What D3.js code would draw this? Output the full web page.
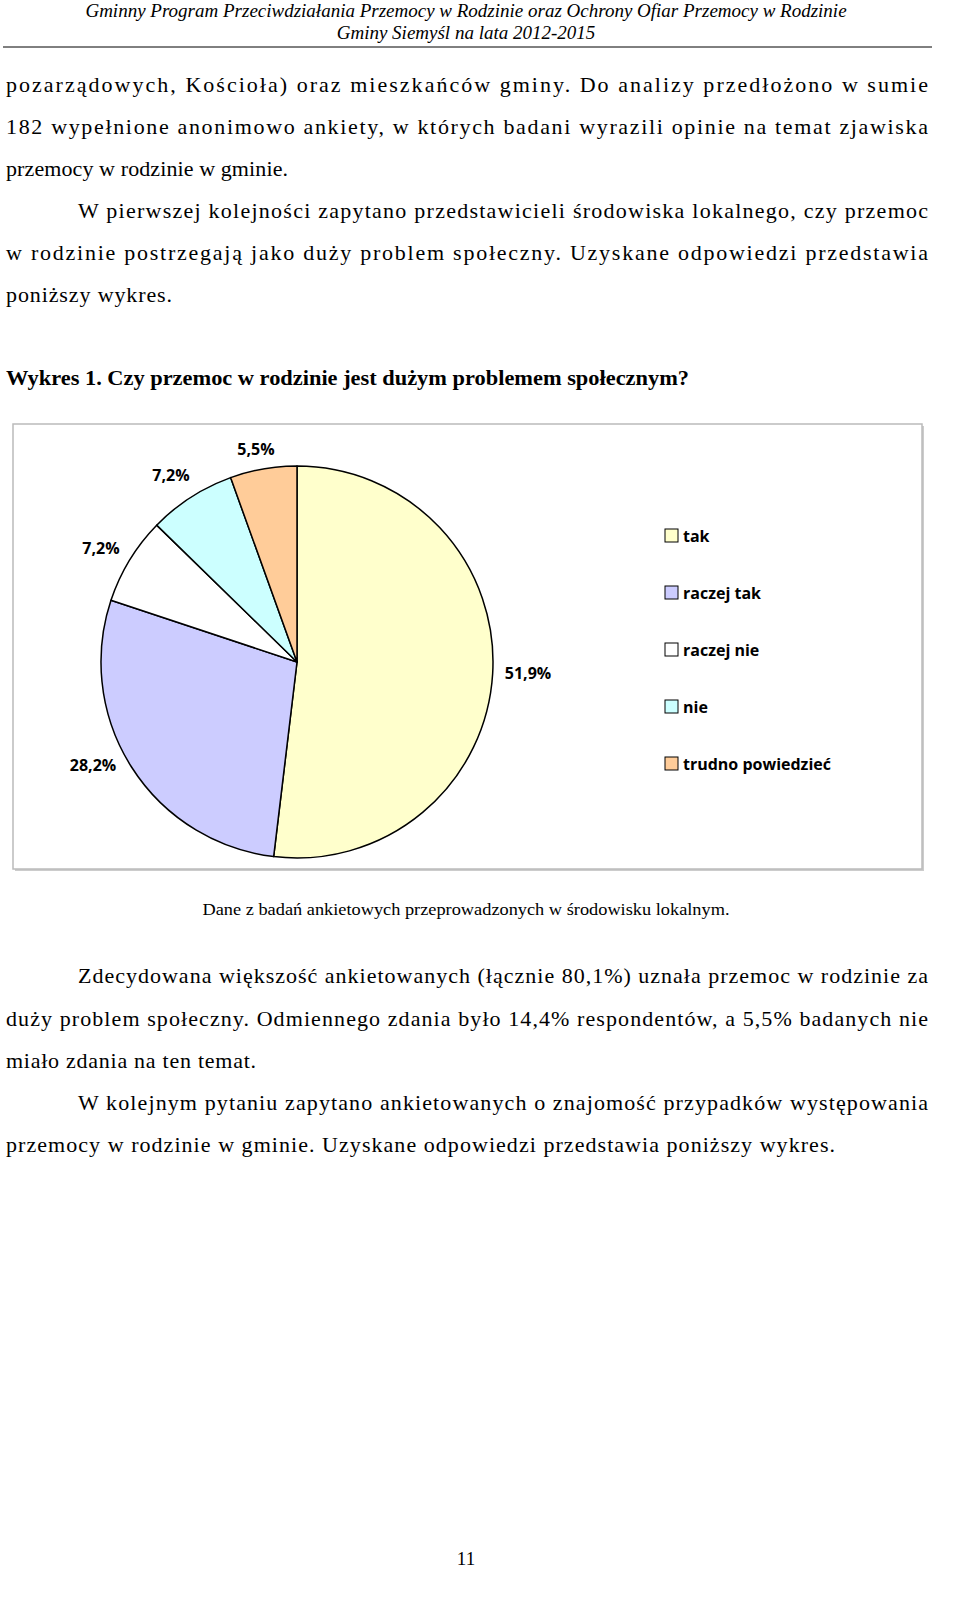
<!DOCTYPE html>
<html><head><meta charset="utf-8">
<script src="https://cdn.jsdelivr.net/npm/d3@7"></script>
<style>html,body{margin:0;background:#fff;overflow:hidden}svg{display:block}</style>
</head><body>
<script>
var categories = ["tak", "raczej tak", "raczej nie", "nie", "trudno powiedzieć"];
var values = [51.9, 28.2, 7.2, 7.2, 5.5];
var colors = ["#ffffcc", "#ccccff", "#ffffff", "#ccffff", "#ffcc99"];
var labels = ["51,9%", "28,2%", "7,2%", "7,2%", "5,5%"];

var svg = d3.select("body").append("svg").attr("width", 960).attr("height", 1611);

// header
var serif = "'Liberation Serif', 'Times New Roman', serif";
svg.append("text").attr("x", 466).attr("y", 17).attr("text-anchor", "middle")
  .attr("font-family", serif).attr("font-style", "italic").attr("font-size", 19)
  .text("Gminny Program Przeciwdziałania Przemocy w Rodzinie oraz Ochrony Ofiar Przemocy w Rodzinie");
svg.append("text").attr("x", 466).attr("y", 39).attr("text-anchor", "middle")
  .attr("font-family", serif).attr("font-style", "italic").attr("font-size", 19)
  .text("Gminy Siemyśl na lata 2012-2015");
svg.append("line").attr("x1", 3).attr("x2", 932).attr("y1", 47).attr("y2", 47).attr("stroke", "#000");

// body text lines: [text, x, y, right edge]
var lines = [
  ["pozarządowych, Kościoła) oraz mieszkańców gminy. Do analizy przedłożono w sumie", 6, 92, 928],
  ["182 wypełnione anonimowo ankiety, w których badani wyrazili opinie na temat zjawiska", 6, 134, 928],
  ["przemocy w rodzinie w gminie.", 6, 176, 288],
  ["W pierwszej kolejności zapytano przedstawicieli środowiska lokalnego, czy przemoc", 78, 218, 928],
  ["w rodzinie postrzegają jako duży problem społeczny. Uzyskane odpowiedzi przedstawia", 6, 260, 928],
  ["poniższy wykres.", 6, 302, 172],
  ["Zdecydowana większość ankietowanych (łącznie 80,1%) uznała przemoc w rodzinie za", 78, 983, 928],
  ["duży problem społeczny. Odmiennego zdania było 14,4% respondentów, a 5,5% badanych nie", 6, 1026, 928],
  ["miało zdania na ten temat.", 6, 1068, 256],
  ["W kolejnym pytaniu zapytano ankietowanych o znajomość przypadków występowania", 78, 1110, 928],
  ["przemocy w rodzinie w gminie. Uzyskane odpowiedzi przedstawia poniższy wykres.", 6, 1152, 835]
];
lines.forEach(function(l) {
  svg.append("text").attr("x", l[1]).attr("y", l[2])
    .attr("font-family", serif).attr("font-size", 22).attr("fill", "#000").text(l[0])
    .attr("textLength", l[3] - l[1]).attr("lengthAdjust", "spacing");
});

svg.append("text").attr("x", 6).attr("y", 385).attr("font-family", serif)
  .attr("font-weight", "bold").attr("font-size", 20.5)
  .attr("textLength", 683).attr("lengthAdjust", "spacingAndGlyphs")
  .text("Wykres 1. Czy przemoc w rodzinie jest dużym problemem społecznym?");

// chart box
svg.append("rect").attr("x", 15).attr("y", 426).attr("width", 909).attr("height", 445).attr("fill", "#ccc");
svg.append("rect").attr("x", 13).attr("y", 424).attr("width", 909).attr("height", 445)
  .attr("fill", "#fff").attr("stroke", "#bbb").attr("stroke-width", 1.5);

var cx = 297, cy = 662, r = 196;
var pie = d3.pie().sort(null).value(function(d) { return d; });
var arc = d3.arc().innerRadius(0).outerRadius(r);
var arcs = pie(values);
var g = svg.append("g").attr("transform", "translate(" + cx + "," + cy + ")");
g.selectAll("path").data(arcs).enter().append("path")
  .attr("d", arc).attr("fill", function(d, i) { return colors[i]; })
  .attr("stroke", "#000").attr("stroke-width", 1.5).attr("stroke-linejoin", "round");

var sans = "'Open Sans', 'DejaVu Sans', sans-serif";
// label positions relative to pie centre
var labelPos = [[231, 17], [-204, 109], [-196, -108], [-126, -181], [-41, -207]];
g.selectAll("text.lbl").data(arcs).enter().append("text")
  .attr("class", "lbl")
  .attr("x", function(d, i) { return labelPos[i][0]; })
  .attr("y", function(d, i) { return labelPos[i][1]; })
  .attr("text-anchor", "middle").attr("font-family", sans).attr("font-weight", "bold")
  .attr("font-size", 16).text(function(d, i) { return labels[i]; });

var leg = svg.append("g").attr("transform", "translate(665,536)");
var items = leg.selectAll("g").data(categories).enter().append("g")
  .attr("transform", function(d, i) { return "translate(0," + (i * 57) + ")"; });
items.append("rect").attr("x", 0).attr("y", -7).attr("width", 13).attr("height", 13)
  .attr("fill", function(d, i) { return colors[i]; }).attr("stroke", "#000");
items.append("text").attr("x", 18).attr("y", 6).attr("font-family", sans)
  .attr("font-weight", "bold").attr("font-size", 16).text(function(d) { return d; });

svg.append("text").attr("x", 466).attr("y", 915).attr("text-anchor", "middle")
  .attr("font-family", serif).attr("font-size", 17)
  .attr("textLength", 527).attr("lengthAdjust", "spacingAndGlyphs")
  .text("Dane z badań ankietowych przeprowadzonych w środowisku lokalnym.");

svg.append("text").attr("x", 466).attr("y", 1565).attr("text-anchor", "middle")
  .attr("font-family", serif).attr("font-size", 19).text("11");
</script>
</body></html>
